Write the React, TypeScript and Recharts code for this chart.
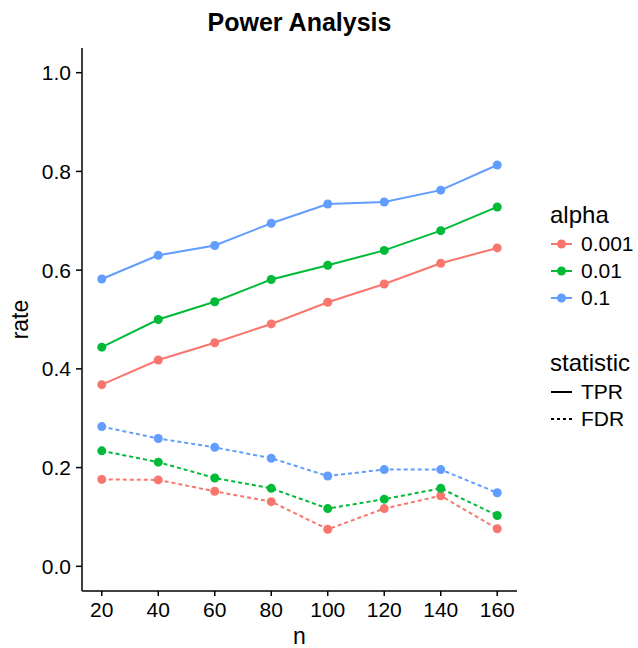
import { LineChart, Line, XAxis, YAxis, Label } from "recharts";

const nValues = [20, 40, 60, 80, 100, 120, 140, 160];

const tpr001 = [0.368, 0.418, 0.453, 0.491, 0.535, 0.572, 0.614, 0.645];
const tpr01 = [0.444, 0.5, 0.536, 0.581, 0.61, 0.64, 0.68, 0.728];
const tpr1 = [0.582, 0.63, 0.65, 0.695, 0.734, 0.738, 0.762, 0.813];

const fdr001 = [0.176, 0.175, 0.152, 0.131, 0.075, 0.117, 0.143, 0.076];
const fdr01 = [0.234, 0.211, 0.179, 0.158, 0.117, 0.136, 0.158, 0.103];
const fdr1 = [0.283, 0.259, 0.241, 0.219, 0.183, 0.196, 0.196, 0.149];

const alphaLevels = ["0.001", "0.01", "0.1"];
const alphaColors = ["#F8766D", "#00BA38", "#619CFF"];
const yTicks = [0, 0.2, 0.4, 0.6, 0.8, 1.0];

const data = nValues.map((n, i) => ({
  n,
  tpr001: tpr001[i],
  tpr01: tpr01[i],
  tpr1: tpr1[i],
  fdr001: fdr001[i],
  fdr01: fdr01[i],
  fdr1: fdr1[i],
}));

const series = [
  { key: "tpr001", color: alphaColors[0], dash: undefined },
  { key: "tpr01", color: alphaColors[1], dash: undefined },
  { key: "tpr1", color: alphaColors[2], dash: undefined },
  { key: "fdr001", color: alphaColors[0], dash: "4 3" },
  { key: "fdr01", color: alphaColors[1], dash: "4 3" },
  { key: "fdr1", color: alphaColors[2], dash: "4 3" },
];

const font = "'Liberation Sans', Arial, sans-serif";
const tickStyle = { fontSize: 21, fill: "#000", fontFamily: font };

const RateLabel = (props: any) => {
  const vb = props.viewBox;
  const x = vb.x + 28;
  const y = vb.y + vb.height / 2;
  return (
    <text x={x} y={y} transform={`rotate(-90, ${x}, ${y})`} textAnchor="middle" fontSize={23} fontFamily={font} fill="#000">
      rate
    </text>
  );
};

function LegendKey({ color, dash, dot }: { color: string; dash?: string; dot?: boolean }) {
  return (
    <svg width={24} height={12} style={{ marginRight: 7, flexShrink: 0 }}>
      <line x1={1} y1={6} x2={22} y2={6} stroke={color} strokeWidth={2} strokeDasharray={dash} />
      {dot && <circle cx={11.5} cy={6} r={4.5} fill={color} />}
    </svg>
  );
}

export default function App() {
  return (
    <div style={{ position: "absolute", left: 0, top: 0, width: 638, height: 648, background: "#fff", fontFamily: font }}>
      <div style={{ position: "absolute", left: 82, width: 435, top: 7, textAlign: "center", fontSize: 25, fontWeight: "bold", lineHeight: "30px" }}>
        Power Analysis
      </div>
      <LineChart width={638} height={648} data={data} margin={{ top: 48, right: 121, left: 0, bottom: 0 }}>
        <XAxis
          dataKey="n"
          type="number"
          domain={[13, 167]}
          ticks={nValues}
          height={57}
          tick={tickStyle}
          tickSize={5}
          tickMargin={6}
          axisLine={{ stroke: "#000", strokeWidth: 1.5 }}
          tickLine={{ stroke: "#000", strokeWidth: 1.5 }}
        >
          <Label value="n" position="insideBottom" offset={4} style={{ fontSize: 23, fill: "#000", fontFamily: font }} />
        </XAxis>
        <YAxis
          type="number"
          domain={[-0.05, 1.05]}
          ticks={yTicks}
          allowDataOverflow
          width={82}
          tick={tickStyle}
          tickSize={6}
          tickMargin={5}
          tickFormatter={(v: number) => v.toFixed(1)}
          axisLine={{ stroke: "#000", strokeWidth: 1.5 }}
          tickLine={{ stroke: "#000", strokeWidth: 1.5 }}
        >
          <Label content={RateLabel} />
        </YAxis>
        {series.map((s) => (
          <Line
            key={s.key}
            type="linear"
            dataKey={s.key}
            stroke={s.color}
            strokeWidth={2}
            strokeDasharray={s.dash}
            dot={{ r: 4.5, fill: s.color, stroke: "none", strokeDasharray: "" }}
            activeDot={false}
            isAnimationActive={false}
          />
        ))}
      </LineChart>
      <div style={{ position: "absolute", left: 550, top: 200, color: "#000" }}>
        <div style={{ fontSize: 24, lineHeight: "30px" }}>alpha</div>
        {alphaLevels.map((a, i) => (
          <div key={a} style={{ display: "flex", alignItems: "center", height: 27, fontSize: 21 }}>
            <LegendKey color={alphaColors[i]} dot />
            {a}
          </div>
        ))}
        <div style={{ height: 37 }} />
        <div style={{ fontSize: 24, lineHeight: "30px" }}>statistic</div>
        <div style={{ display: "flex", alignItems: "center", height: 27, fontSize: 21 }}>
          <LegendKey color="#000" />
          TPR
        </div>
        <div style={{ display: "flex", alignItems: "center", height: 27, fontSize: 21 }}>
          <LegendKey color="#000" dash="3 3" />
          FDR
        </div>
      </div>
    </div>
  );
}
